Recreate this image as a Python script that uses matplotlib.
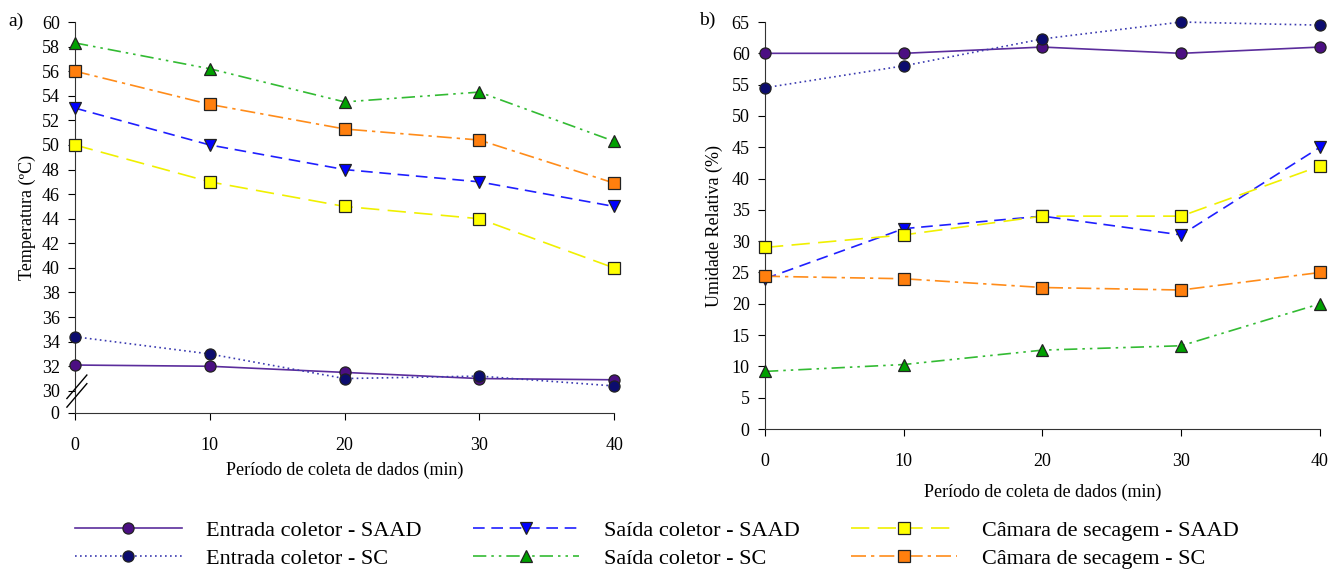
import matplotlib
matplotlib.use('Agg')
import matplotlib.pyplot as plt
from matplotlib.lines import Line2D

plt.rcParams['font.family'] = ['Liberation Serif', 'DejaVu Serif']

tempo = [0, 10, 20, 30, 40]

# a) temperatura (C)
t_ent_saad = [32.1, 32.0, 31.5, 31.0, 30.9]
t_ent_sc = [34.4, 33.0, 31.0, 31.2, 30.4]
t_sai_saad = [53.0, 50.0, 48.0, 47.0, 45.0]
t_sai_sc = [58.3, 56.2, 53.5, 54.3, 50.3]
t_cam_saad = [50.0, 47.0, 45.0, 44.0, 40.0]
t_cam_sc = [56.0, 53.3, 51.3, 50.4, 46.9]

# b) umidade relativa (%)
u_ent_saad = [60.0, 60.0, 61.0, 60.0, 61.0]
u_ent_sc = [54.5, 58.0, 62.3, 65.0, 64.5]
u_sai_saad = [24.0, 32.0, 34.0, 31.0, 45.0]
u_sai_sc = [9.2, 10.3, 12.6, 13.3, 20.0]
u_cam_saad = [29.0, 31.0, 34.0, 34.0, 42.0]
u_cam_sc = [24.4, 24.0, 22.6, 22.2, 25.0]

nomes = ['Entrada coletor - SAAD', 'Entrada coletor - SC',
         'Saída coletor - SAAD', 'Saída coletor - SC',
         'Câmara de secagem - SAAD', 'Câmara de secagem - SC']

# line color, marker face, marker, dashes
estilos = [
    dict(color='#5b2d9c', mfc='#4b0f82', marker='o', ls='-'),
    dict(color='#3a3ab0', mfc='#0c0c6e', marker='o', ls=(0, (1, 2))),
    dict(color='#1f1fff', mfc='#0000ff', marker='v', ls=(0, (7, 4))),
    dict(color='#33bb33', mfc='#00a000', marker='^', ls=(0, (8, 3, 1.5, 3, 1.5, 3))),
    dict(color='#f0f000', mfc='#ffff00', marker='s', ls=(0, (11, 5))),
    dict(color='#ff8c1a', mfc='#ff7f0e', marker='s', ls=(0, (9, 3, 2, 3))),
]

fig = plt.figure(figsize=(13.39, 5.69), dpi=100)
ax1 = fig.add_axes([0.056, 0.2742, 0.4026, 0.6871])
ax2 = fig.add_axes([0.5713, 0.246, 0.4145, 0.7153])


def desenha(ax, series):
    for y, st in zip(series, estilos):
        ax.plot(tempo, y, color=st['color'], ls=st['ls'], lw=1.2,
                marker=st['marker'], ms=8, mfc=st['mfc'], mec='#222222',
                mew=0.9, clip_on=False, zorder=3)
    for s in ['top', 'right']:
        ax.spines[s].set_visible(False)
    ax.spines['left'].set_color('#333333')
    ax.spines['bottom'].set_color('#333333')
    ax.set_xlim(0, 40)
    ax.set_xticks(tempo)
    ax.tick_params(axis='x', direction='out', length=5, pad=12, labelsize=13)
    ax.tick_params(axis='y', direction='out', length=5, pad=6, labelsize=13)


desenha(ax1, [t_ent_saad, t_ent_sc, t_sai_saad, t_sai_sc, t_cam_saad, t_cam_sc])
desenha(ax2, [u_ent_saad, u_ent_sc, u_sai_saad, u_sai_sc, u_cam_saad, u_cam_sc])

# broken axis: bottom of the axis stands for 0
y0 = 28.2
ax1.set_ylim(y0, 60)
ax1.set_yticks([y0] + list(range(30, 61, 2)))
ax1.set_yticklabels(['0'] + [str(v) for v in range(30, 61, 2)])
for dy in [0.0, 0.022]:
    ax1.plot([-0.015, 0.022], [0.015 + dy, 0.075 + dy], transform=ax1.transAxes,
             color='black', lw=1.0, clip_on=False, zorder=5)

ax2.set_ylim(0, 65)
ax2.set_yticks(range(0, 66, 5))

ax1.set_ylabel('Temperatura (ºC)', fontsize=13, labelpad=4)
ax2.set_ylabel('Umidade Relativa (%)', fontsize=13, labelpad=6)
ax1.set_xlabel('Período de coleta de dados (min)', fontsize=13, labelpad=6)
ax2.set_xlabel('Período de coleta de dados (min)', fontsize=13, labelpad=10)

fig.text(0.006, 0.962, 'a)', fontsize=14, va='center')
fig.text(0.522, 0.965, 'b)', fontsize=14, va='center')

handles = []
for st in estilos:
    handles.append(Line2D([], [], color=st['color'], ls=st['ls'], lw=1.2,
                          marker=st['marker'], ms=8, mfc=st['mfc'],
                          mec='#222222', mew=0.9))
fig.legend(handles, nomes, ncol=3, loc='lower left', bbox_to_anchor=(0.041, -0.035),
           frameon=False, fontsize=16, handlelength=4.8, handletextpad=1.1,
           columnspacing=2.3, labelspacing=0.35)

fig.savefig('out.png', dpi=100)
